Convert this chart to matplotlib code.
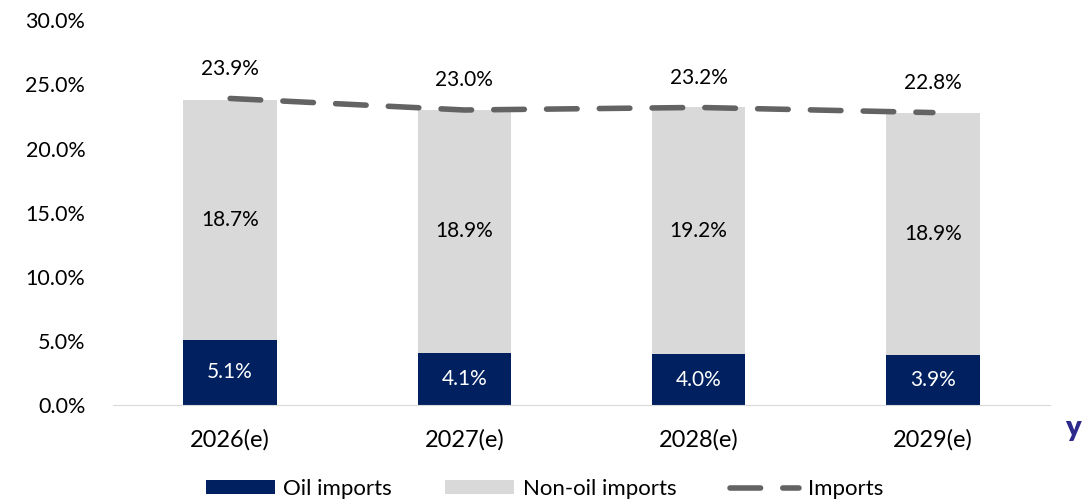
import matplotlib.pyplot as plt
import numpy as np

plt.rcParams['font.family'] = ['Lato', 'DejaVu Sans']

years = ["2026(e)", "2027(e)", "2028(e)", "2029(e)"]
oil = [5.1, 4.1, 4.0, 3.9]
non_oil = [18.7, 18.9, 19.2, 18.9]
total = [23.9, 23.0, 23.2, 22.8]

x = np.arange(len(years))

fig = plt.figure(figsize=(10.89, 5.04), dpi=100)
ax = fig.add_axes([0.1038, 0.196, 0.8604, 0.764])

b1 = ax.bar(x, oil, width=0.4, color="#002060", label="Oil imports")
b2 = ax.bar(x, non_oil, width=0.4, bottom=oil, color="#D9D9D9", label="Non-oil imports")
ln, = ax.plot(x, total, color="#636363", lw=4, dashes=(5.5, 4), solid_capstyle="round",
              dash_capstyle="round", label="Imports")

for i in range(len(years)):
    ax.text(x[i], oil[i] / 2, f"{oil[i]:.1f}%", ha="center", va="center",
            color="white", fontsize=15)
    ax.text(x[i], oil[i] + non_oil[i] / 2, f"{non_oil[i]:.1f}%", ha="center",
            va="center", color="black", fontsize=15)
    ax.text(x[i], total[i] + 2.3, f"{total[i]:.1f}%", ha="center",
            va="center", color="black", fontsize=15)

ax.set_xlim(-0.5, 3.5)
ax.set_ylim(0, 30)
ax.set_yticks(np.arange(0, 31, 5))
ax.set_yticklabels([f"{v:.1f}%" for v in np.arange(0, 31, 5)])
ax.set_xticks(x)
ax.set_xticklabels(years)
ax.tick_params(axis="x", length=0, labelsize=17, pad=17)
ax.tick_params(axis="y", length=0, labelsize=15.5, pad=20)
for s in ["top", "right", "left"]:
    ax.spines[s].set_visible(False)
ax.spines["bottom"].set_color("#D9D9D9")

fig.legend(handles=[b1, b2, ln], loc="center", bbox_to_anchor=(0.5, 0.03), ncol=3,
           frameon=False, fontsize=16, handlelength=3.1, handleheight=0.55,
           columnspacing=2.4, handletextpad=0.4)

fig.text(0.985, 0.15, "y", color="#2E2A8C", fontsize=21, fontweight="heavy",
         ha="center", va="center")

fig.savefig("out.png", dpi=100)
